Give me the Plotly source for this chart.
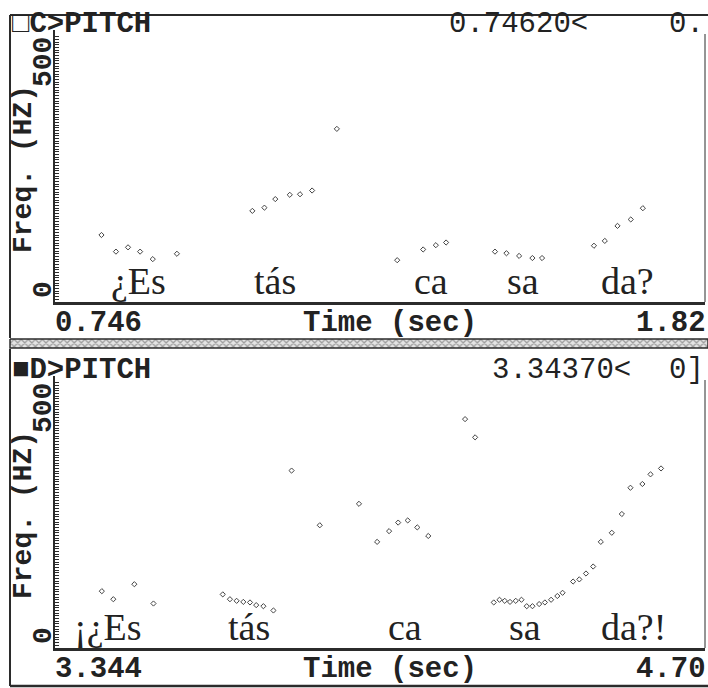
import plotly.graph_objects as go

# ---------------- data ----------------
top_time = [0.823, 0.847, 0.867, 0.887, 0.908, 0.948,
            1.073, 1.093, 1.111, 1.135, 1.152, 1.172, 1.213,
            1.313, 1.356, 1.377, 1.394,
            1.475, 1.494, 1.515, 1.537, 1.553,
            1.639, 1.657, 1.678, 1.700, 1.720]
top_f0 = [125, 94, 102, 94, 80, 90,
          170, 176, 192, 200, 201, 208, 323,
          78, 98, 106, 111,
          94, 91, 86, 82, 82,
          105, 114, 142, 154, 175]

bottom_time = [3.442, 3.466, 3.510, 3.550,
               3.695, 3.710, 3.724, 3.738, 3.752, 3.765, 3.780, 3.801,
               3.839, 3.898, 3.980,
               4.018, 4.043, 4.062, 4.082, 4.102, 4.125,
               4.202, 4.223,
               4.262, 4.274, 4.285, 4.296, 4.308, 4.320, 4.331, 4.343, 4.357,
               4.369, 4.382, 4.395, 4.406,
               4.428, 4.441, 4.455, 4.470,
               4.486, 4.509, 4.530, 4.548, 4.573, 4.590, 4.612]
bottom_f0 = [106, 91, 119, 83,
             100, 91, 88, 86, 85, 80, 78, 70,
             331, 229, 269,
             198, 218, 234, 238, 225, 209,
             427, 393,
             85, 90, 88, 86, 88, 90, 78, 78, 82,
             85, 90, 97, 103,
             124, 128, 139, 152,
             198, 215, 250, 299, 306, 324, 335]

top_syllables = ["¿Es", "tás", "ca", "sa", "da?"]
top_syl_time = [0.885, 1.111, 1.369, 1.522, 1.694]
bottom_syllables = ["¡¿Es", "tás", "ca", "sa", "da?!"]
bottom_syl_time = [3.455, 3.750, 4.076, 4.327, 4.555]

top_range = [0.746, 1.823]
bottom_range = [3.344, 4.704]
f_range = [0, 500]

top_header = ["□C>PITCH", "0.74620<", "0."]
bottom_header = ["■D>PITCH", "3.34370<", "0]"]
top_time_labels = ["0.746", "Time (sec)", "1.82"]
bottom_time_labels = ["3.344", "Time (sec)", "4.70"]
y_label = "Freq. (HZ)"
y_tick_labels = ["500", "0"]

# ---------------- layout helpers ----------------
W, H = 708, 688
DARK = "#2b2b2b"
MONO = "Liberation Mono"
SERIF = "Liberation Serif"


def px(x):
    return x / W


def py(y):
    return 1 - y / H


fig = go.Figure()

marker = dict(symbol="diamond-open", size=4, color="#444444",
              line=dict(width=1, color="#444444"))

fig.add_trace(go.Scatter(x=top_time, y=top_f0, mode="markers", marker=marker,
                         xaxis="x", yaxis="y", showlegend=False))
fig.add_trace(go.Scatter(x=bottom_time, y=bottom_f0, mode="markers", marker=marker,
                         xaxis="x2", yaxis="y2", showlegend=False))

# hatched separator bar on a pixel helper axis
fig.add_trace(go.Scatter(x=[10, 708, 708, 10, 10], y=[339, 339, 348, 348, 339],
                         mode="lines", fill="toself",
                         line=dict(color=DARK, width=1.5),
                         fillcolor="#d0d0d0",
                         fillpattern=dict(shape="x", size=5, solidity=0.45,
                                          fgcolor="#555555", bgcolor="#e4e4e4"),
                         xaxis="x3", yaxis="y3", showlegend=False, hoverinfo="skip"))

xdom = [px(55), px(705)]
top_ydom = [py(302), py(34)]
bot_ydom = [py(648), py(380)]

xaxis_common = dict(showline=True, linewidth=2.5, linecolor=DARK, showgrid=False,
                    zeroline=False, ticks="", showticklabels=False, domain=xdom)
yaxis_common = dict(showline=True, linewidth=2, linecolor=DARK, showgrid=False,
                    zeroline=False, ticks="inside", dtick=5, ticklen=4, tickwidth=1,
                    tickcolor=DARK, showticklabels=False, range=f_range)

fig.update_layout(
    width=W, height=H,
    margin=dict(l=0, r=0, t=0, b=0),
    paper_bgcolor="white", plot_bgcolor="rgba(0,0,0,0)",
    xaxis=dict(range=top_range, anchor="y", **xaxis_common),
    yaxis=dict(domain=top_ydom, anchor="x", **yaxis_common),
    xaxis2=dict(range=bottom_range, anchor="y2", **xaxis_common),
    yaxis2=dict(domain=bot_ydom, anchor="x2", **yaxis_common),
    xaxis3=dict(domain=[0, 1], range=[0, W], visible=False, anchor="y3", fixedrange=True),
    yaxis3=dict(domain=[0, 1], range=[H, 0], visible=False, anchor="x3", fixedrange=True),
)

# frame lines (pixel helper axis)
shapes = []


def line(x0, y0, x1, y1, w=2):
    shapes.append(dict(type="line", xref="x3", yref="y3", x0=x0, y0=y0, x1=x1, y1=y1,
                       line=dict(color=DARK, width=w)))


line(10, 15, 708, 15, 2)          # top frame
line(10, 15, 10, 338, 2)          # left frame top panel
line(10, 349, 10, 686, 2)         # left frame bottom panel
line(10, 686, 708, 686, 2.5)      # bottom frame
line(705, 34, 705, 302, 1)        # right edge plot 1
line(705, 380, 705, 648, 1)       # right edge plot 2
line(54, 30, 54, 303, 2)          # y axis line plot 1
line(54, 376, 54, 649, 2)         # y axis line plot 2
fig.update_layout(shapes=shapes)

ann = []


def text(x, y, s, size=29, family=MONO, xanchor="left", angle=0, bold=True, color="#222222"):
    ann.append(dict(x=x, y=y, xref="x3", yref="y3", text=s, showarrow=False,
                    xanchor=xanchor, yanchor="middle", textangle=angle,
                    font=dict(family=family, size=size, color=color,
                              weight="bold" if bold else "normal")))


for off, hdr, tl in [(0, top_header, top_time_labels), (346, bottom_header, bottom_time_labels)]:
    text(10, 24 + off, hdr[0])
    text(447 + (0 if off == 0 else 43), 24 + off, hdr[1], bold=False)
    text(706, 24 + off, hdr[2], bold=False, xanchor="right")
    text(53, 323 + off, tl[0])
    text(390, 323 + off, tl[1], xanchor="center")
    text(708, 323 + off, tl[2], xanchor="right")
    text(23, 169 + off, y_label, angle=-90, size=28, xanchor="center")
    text(43, 62 + off, y_tick_labels[0], angle=-90, size=28, xanchor="center")
    text(43, 290 + off, y_tick_labels[1], angle=-90, size=28, xanchor="center")

# syllable labels in data coordinates
for xs, ss, xr, yr in [(top_syl_time, top_syllables, "x", "y"),
                       (bottom_syl_time, bottom_syllables, "x2", "y2")]:
    for t, s in zip(xs, ss):
        ann.append(dict(x=t, y=40, xref=xr, yref=yr, text=s, showarrow=False,
                        xanchor="center", yanchor="middle",
                        font=dict(family=SERIF, size=38, color="#222222")))

fig.update_layout(annotations=ann)

fig.write_html("out.html", config={"displayModeBar": False},
               post_script="document.body.style.margin='0';document.body.style.overflow='hidden';")
